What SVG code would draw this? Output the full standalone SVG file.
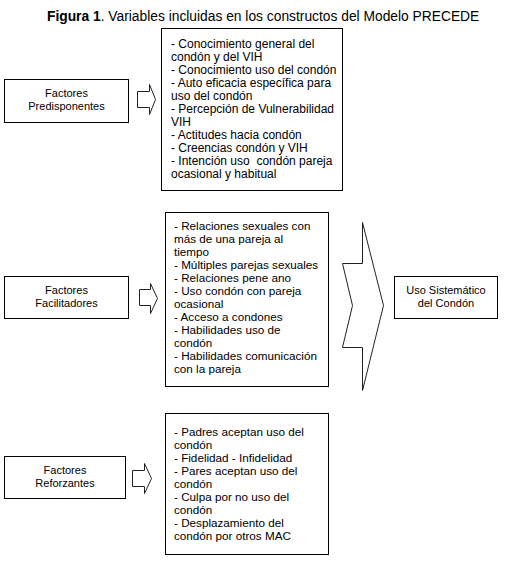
<svg xmlns="http://www.w3.org/2000/svg" width="510" height="570" viewBox="0 0 510 570">
<style>
.box{fill:#fff;stroke:#000;stroke-width:1}
.arr{fill:#fff;stroke:#222;stroke-width:1;stroke-linejoin:miter}
text{font-family:"Liberation Sans",Arial,sans-serif;fill:#000}
.lbl{font-size:11px;text-anchor:middle}
.la{font-size:12px}
.lb{font-size:11.7px}
.title{font-size:13.8px}
</style>
<rect width="510" height="570" fill="#fff"/>
<text class="title" x="47" y="21"><tspan font-weight="bold">Figura 1</tspan>. Variables incluidas en los constructos del Modelo PRECEDE</text>

<g id="predisponentes">
<rect class="box" x="4.5" y="79.5" width="124" height="43"/>
<text class="lbl" x="66.5" y="97">Factores</text>
<text class="lbl" x="66.5" y="110">Predisponentes</text>
</g>
<g id="facilitadores">
<rect class="box" x="4.5" y="276.5" width="124" height="42"/>
<text class="lbl" x="66.5" y="294">Factores</text>
<text class="lbl" x="66.5" y="307">Facilitadores</text>
</g>
<g id="reforzantes">
<rect class="box" x="4.5" y="456.5" width="121" height="42"/>
<text class="lbl" x="65" y="474">Factores</text>
<text class="lbl" x="65" y="487">Reforzantes</text>
</g>
<g id="uso">
<rect class="box" x="394.5" y="276.5" width="103" height="42"/>
<text class="lbl" x="446" y="294">Uso Sistemático</text>
<text class="lbl" x="446" y="307">del Condón</text>
</g>

<g id="lista-predisponentes">
<rect class="box" x="161.5" y="28.5" width="181" height="162"/>
<text class="la" x="171" xml:space="preserve"><tspan x="171" y="48">- Conocimiento general del</tspan><tspan x="171" y="61">condón y del VIH</tspan><tspan x="171" y="74">- Conocimiento uso del condón</tspan><tspan x="171" y="87">- Auto eficacia específica para</tspan><tspan x="171" y="100">uso del condón</tspan><tspan x="171" y="113">- Percepción de Vulnerabilidad</tspan><tspan x="171" y="126">VIH</tspan><tspan x="171" y="139">- Actitudes hacia condón</tspan><tspan x="171" y="152">- Creencias condón y VIH</tspan><tspan x="171" y="165">- Intención uso  condón pareja</tspan><tspan x="171" y="178">ocasional y habitual</tspan></text>
</g>

<g id="lista-facilitadores">
<rect class="box" x="165.5" y="212.5" width="163" height="174"/>
<text class="lb">
<tspan x="174" y="230">- Relaciones sexuales con</tspan>
<tspan x="174" y="243">más de una pareja al</tspan>
<tspan x="174" y="256">tiempo</tspan>
<tspan x="174" y="269">- Múltiples parejas sexuales</tspan>
<tspan x="174" y="282">- Relaciones pene ano</tspan>
<tspan x="174" y="295">- Uso condón con pareja</tspan>
<tspan x="174" y="308">ocasional</tspan>
<tspan x="174" y="321">- Acceso a condones</tspan>
<tspan x="174" y="334">- Habilidades uso de</tspan>
<tspan x="174" y="347">condón</tspan>
<tspan x="174" y="360">- Habilidades comunicación</tspan>
<tspan x="174" y="373">con la pareja</tspan>
</text>
</g>

<g id="lista-reforzantes">
<rect class="box" x="165.5" y="413.5" width="163" height="141"/>
<text class="lb">
<tspan x="174" y="436">- Padres aceptan uso del</tspan>
<tspan x="174" y="449">condón</tspan>
<tspan x="174" y="462">- Fidelidad - Infidelidad</tspan>
<tspan x="174" y="475">- Pares aceptan uso del</tspan>
<tspan x="174" y="488">condón</tspan>
<tspan x="174" y="501">- Culpa por no uso del</tspan>
<tspan x="174" y="514">condón</tspan>
<tspan x="174" y="527">- Desplazamiento del</tspan>
<tspan x="174" y="540">condón por otros MAC</tspan>
</text>
</g>

<g id="connectors">
<path class="arr" d="M137.5,91.5 H149.5 V84.5 L155.5,99.5 L149.5,114.5 V107.5 H137.5 Z"/>
<path class="arr" d="M139.5,289.5 H150.5 V283.5 L157.5,298.5 L150.5,313.5 V305.5 H139.5 Z"/>
<path class="arr" d="M132.5,470.5 H144.5 V463.5 L151.5,478.5 L144.5,493.5 V486.5 H132.5 Z"/>
<path class="arr" d="M362.5,222.5 V263.5 H342.5 L352.5,305.5 L342.5,347.5 H362.5 V390.5 L383.5,305.5 Z"/>
</g>
</svg>
